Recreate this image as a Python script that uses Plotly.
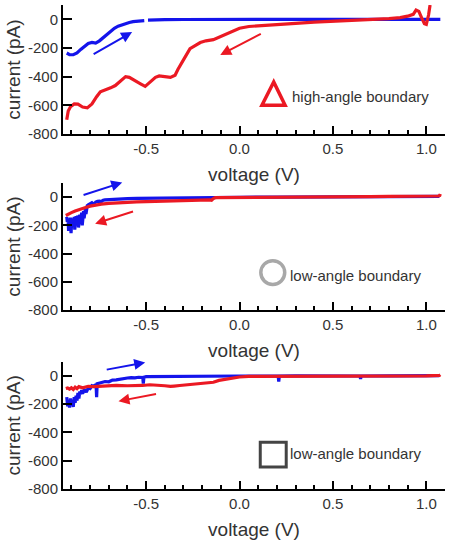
import plotly.graph_objects as go

# ---------------- data ----------------
# Panel 1 (high-angle boundary)
v1_fwd = [-0.925, -0.91, -0.89, -0.87, -0.85, -0.83, -0.81, -0.79, -0.77, -0.75, -0.73, -0.71,
          -0.69, -0.67, -0.65, -0.63, -0.61, -0.59, -0.57, -0.55, -0.53, -0.51, None,
          -0.49, -0.45, -0.4, -0.3, -0.2, -0.1, 0.0, 0.2, 0.4, 0.6, 0.8, 1.0, 1.075]
i1_fwd = [-235, -246, -247, -235, -210, -190, -168, -161, -166, -150, -128, -105,
          -80, -62, -48, -38, -30, -22, -16, -12, -10, -9, None,
          -6, -3, -2, -1, -1, 0, 0, 0, 0, 0, 0, 0, 0]
v1_rev = [1.02, 1.012, 1.0, 0.99, 0.975, 0.96, 0.945, 0.93, 0.9, 0.86, 0.8, 0.7, 0.6, 0.5, 0.4,
          0.3, 0.2, 0.1, 0.05, 0.0, -0.03, -0.06, -0.1, -0.14, -0.18, -0.21, -0.24, -0.265,
          -0.29, -0.31, -0.33, -0.345, -0.37, -0.40, -0.43, -0.45, -0.48, -0.505, -0.53,
          -0.56, -0.59, -0.61, -0.64, -0.665, -0.69, -0.72, -0.745, -0.765, -0.79, -0.815,
          -0.84, -0.865, -0.885, -0.905, -0.917, -0.925]
i1_rev = [100, 30, -35, -30, 10, 55, 65, 35, 22, 12, 5, 0, -5, -12, -20,
          -28, -36, -42, -50, -62, -80, -98, -122, -142, -150, -162, -185, -205,
          -260, -300, -350, -390, -405, -400, -395, -405, -440, -468, -450,
          -425, -405, -400, -430, -462, -478, -490, -505, -540, -590, -618,
          -612, -592, -590, -610, -640, -700]

# Panel 2 (low-angle boundary, circle)
v2_fwd = [-0.925, -0.922, -0.918, -0.915, -0.912, -0.908, -0.905, -0.902, -0.898, -0.895,
          -0.892, -0.888, -0.885, -0.882, -0.878, -0.875, -0.872, -0.868, -0.865, -0.862,
          -0.858, -0.855, -0.852, -0.848, -0.845, -0.842, -0.838, -0.835, -0.832, -0.828,
          -0.825, -0.822, -0.818, -0.815, -0.81, -0.80, -0.79, -0.78, -0.77, -0.76, -0.75,
          -0.74, -0.73, -0.72, -0.70, -0.68, -0.66, -0.64, -0.62, -0.60, -0.55, -0.50,
          -0.45, -0.40, -0.35, -0.30, -0.25, -0.20, -0.15, -0.10, 0.0, 0.2, 0.4, 0.6,
          0.8, 1.0, 1.07]
i2_fwd = [-140, -175, -150, -240, -160, -200, -145, -255, -170, -150,
          -210, -160, -140, -230, -150, -135, -190, -145, -130, -215,
          -140, -125, -175, -120, -110, -200, -115, -100, -150, -90,
          -80, -120, -70, -60, -55, -45, -40, -50, -35, -30, -28,
          -32, -22, -20, -18, -15, -14, -12, -12, -10, -9, -8,
          -7, -6, -6, -5, -5, -4, -3, -2, -1, 0, 0, 0,
          1, 2, 5]
v2_rev = [1.075, 1.072, 1.065, 1.0, 0.9, 0.8, 0.7, 0.6, 0.5, 0.4, 0.3, 0.2, 0.1, 0.0, -0.05,
          -0.1, -0.13, -0.14, -0.15, -0.16, -0.2, -0.25, -0.3, -0.35, -0.4, -0.45, -0.5,
          -0.55, -0.6, -0.65, -0.7, -0.74, -0.78, -0.8, -0.82, -0.84, -0.86, -0.88, -0.9,
          -0.91, -0.92, -0.93]
i2_rev = [22, 12, 8, 6, 5, 5, 4, 3, 3, 2, 1, 0, 0, -1, -2,
          -3, -4, -10, -22, -20, -22, -24, -26, -27, -28, -30, -32,
          -34, -36, -40, -44, -50, -58, -64, -72, -80, -88, -98, -110,
          -118, -125, -130]

# Panel 3 (low-angle boundary, square)
v3_fwd = [-0.925, -0.92, -0.915, -0.91, -0.905, -0.90, -0.895, -0.89, -0.885, -0.88,
          -0.875, -0.87, -0.865, -0.86, -0.855, -0.85, -0.845, -0.84, -0.83, -0.82,
          -0.81, -0.80, -0.79, -0.78, -0.768, -0.765, -0.762, -0.75, -0.74, -0.72,
          -0.70, -0.68, -0.66, -0.64, -0.62, -0.60, -0.58, -0.56, -0.54, -0.518,
          -0.515, -0.512, -0.50, -0.45, -0.40, -0.30, -0.20, -0.10, 0.0, 0.1, 0.2,
          0.207, 0.21, 0.213, 0.3, 0.4, 0.5, 0.6, 0.645, 0.648, 0.651, 0.8, 0.9, 1.0,
          1.07]
i3_fwd = [-150, -215, -170, -225, -160, -205, -180, -220, -150, -190,
          -140, -175, -120, -160, -110, -130, -100, -125, -95, -115,
          -85, -90, -70, -75, -60, -150, -55, -50, -45, -40,
          -42, -30, -28, -22, -20, -15, -12, -14, -10, -12,
          -55, -10, -6, -5, -4, -3, -2, -2, -1, -1, -1,
          -1, -40, -1, 0, 0, 0, 0, -1, -22, -1, 0, 0, 0,
          2]
v3_rev = [1.075, 1.07, 1.0, 0.8, 0.6, 0.4, 0.2, 0.1, 0.05, 0.0, -0.03, -0.06, -0.09,
          -0.11, -0.14, -0.17, -0.21, -0.25, -0.29, -0.32, -0.35, -0.37, -0.40, -0.44,
          -0.48, -0.52, -0.56, -0.60, -0.66, -0.70, -0.74, -0.78, -0.81, -0.84, -0.86,
          -0.87, -0.88, -0.89, -0.90, -0.91, -0.92, -0.93]
i3_rev = [8, 3, 0, 0, -1, -1, -2, -3, -4, -8, -14, -20, -26,
          -32, -45, -48, -52, -56, -62, -68, -72, -75, -70, -64,
          -63, -68, -70, -70, -68, -72, -75, -76, -74, -84, -76,
          -90, -80, -96, -84, -94, -86, -90]

x_tickvals = [-0.5, 0.0, 0.5, 1.0]
x_ticktext = ["-0.5", "0.0", "0.5", "1.0"]
y_tickvals = [-800, -600, -400, -200, 0]
y_ticktext = ["-800", "-600", "-400", "-200", "0"]
labels = ["high-angle boundary", "low-angle boundary", "low-angle boundary"]

# ---------------- figure ----------------
BLUE = "rgb(20,20,235)"
RED = "rgb(235,25,35)"
FONT = "Liberation Sans, Arial, sans-serif"
TXT = "#333333"

fig = go.Figure()
panels = [(v1_fwd, i1_fwd, v1_rev, i1_rev),
          (v2_fwd, i2_fwd, v2_rev, i2_rev),
          (v3_fwd, i3_fwd, v3_rev, i3_rev)]
for k, (vf, jf, vr, jr) in enumerate(panels):
    ax = "" if k == 0 else str(k + 1)
    lw = 3.2
    fig.add_trace(go.Scatter(x=vf, y=jf, mode="lines", line=dict(color=BLUE, width=lw),
                             xaxis="x" + ax, yaxis="y" + ax, showlegend=False))
    fig.add_trace(go.Scatter(x=vr, y=jr, mode="lines", line=dict(color=RED, width=lw),
                             xaxis="x" + ax, yaxis="y" + ax, showlegend=False))

domains = [[0.7335, 1.0], [0.3698, 0.6322], [0.0, 0.263]]
layout = dict(
    width=454, height=540,
    margin=dict(l=63, r=9, t=5, b=51, autoexpand=False),
    paper_bgcolor="white", plot_bgcolor="white",
    font=dict(family=FONT, size=15, color=TXT),
    showlegend=False,
)
for k in range(3):
    sx = "" if k == 0 else str(k + 1)
    layout["xaxis" + sx] = dict(
        domain=[0, 1], anchor="y" + sx, range=[-0.945, 1.1], automargin=False,
        showline=True, linecolor="black", linewidth=2, mirror=False,
        showgrid=False, zeroline=False,
        tickmode="array", tickvals=x_tickvals, ticktext=x_ticktext,
        ticks="inside", ticklen=8, tickwidth=2, tickcolor="black",
        minor=dict(dtick=0.1, tick0=0, ticks="inside", ticklen=4, tickwidth=2,
                   tickcolor="black", showgrid=False),
        tickfont=dict(size=15, color=TXT, family=FONT),
        title=dict(text="voltage (V)", font=dict(size=19, color=TXT, family=FONT), standoff=12),
    )
    layout["yaxis" + sx] = dict(
        domain=domains[k], anchor="x" + sx, range=[-800, 100], automargin=False,
        showline=True, linecolor="black", linewidth=2,
        showgrid=False, zeroline=False,
        tickmode="array", tickvals=y_tickvals, ticktext=y_ticktext,
        ticks="inside", ticklen=9, tickwidth=2, tickcolor="black",
        tickfont=dict(size=15, color=TXT, family=FONT),
        title=dict(text="current (pA)", font=dict(size=19, color=TXT, family=FONT), standoff=2),
    )
fig.update_layout(**layout)

# markers (shapes)
fig.add_shape(type="path", xref="x", yref="y",
              path="M 0.183,-437 L 0.120,-600 L 0.244,-600 Z",
              line=dict(color=RED, width=3.5), fillcolor="rgba(0,0,0,0)")
fig.add_shape(type="circle", xref="x2", yref="y2", x0=0.114, x1=0.242, y0=-620, y1=-450,
              line=dict(color="#a8a8a8", width=3.5))
fig.add_shape(type="rect", xref="x3", yref="y3", x0=0.111, x1=0.250, y0=-644, y1=-470,
              line=dict(color="#444444", width=3))

# labels
for k, (yy, xx) in enumerate([(-535, 0.272), (-553, 0.26), (-549, 0.26)]):
    sx = "" if k == 0 else str(k + 1)
    fig.add_annotation(x=xx, y=yy, xref="x" + sx, yref="y" + sx, text=labels[k],
                       showarrow=False, xanchor="left", yanchor="middle",
                       font=dict(size=15, color=TXT, family=FONT))

# arrows: (head x, head y, tail x, tail y, color, axis suffix)
arrows = [(-0.575, -89, -0.789, -249, BLUE, ""), (-0.103, -249, 0.122, -96, RED, ""),
          (-0.628, 104, -0.843, 12, BLUE, "2"), (-0.773, -188, -0.562, -99, RED, "2"),
          (-0.505, 95, -0.719, 42, BLUE, "3"), (-0.648, -179, -0.439, -126, RED, "3")]
for hx, hy, tx, ty, c, sx in arrows:
    fig.add_annotation(x=hx, y=hy, ax=tx, ay=ty, xref="x" + sx, yref="y" + sx,
                       axref="x" + sx, ayref="y" + sx, text="", showarrow=True,
                       arrowhead=2, arrowsize=1.1, arrowwidth=2, arrowcolor=c)

fig.write_html("out.html", config={"displayModeBar": False},
               post_script="document.body.style.margin='0';document.body.style.overflow='hidden';")
